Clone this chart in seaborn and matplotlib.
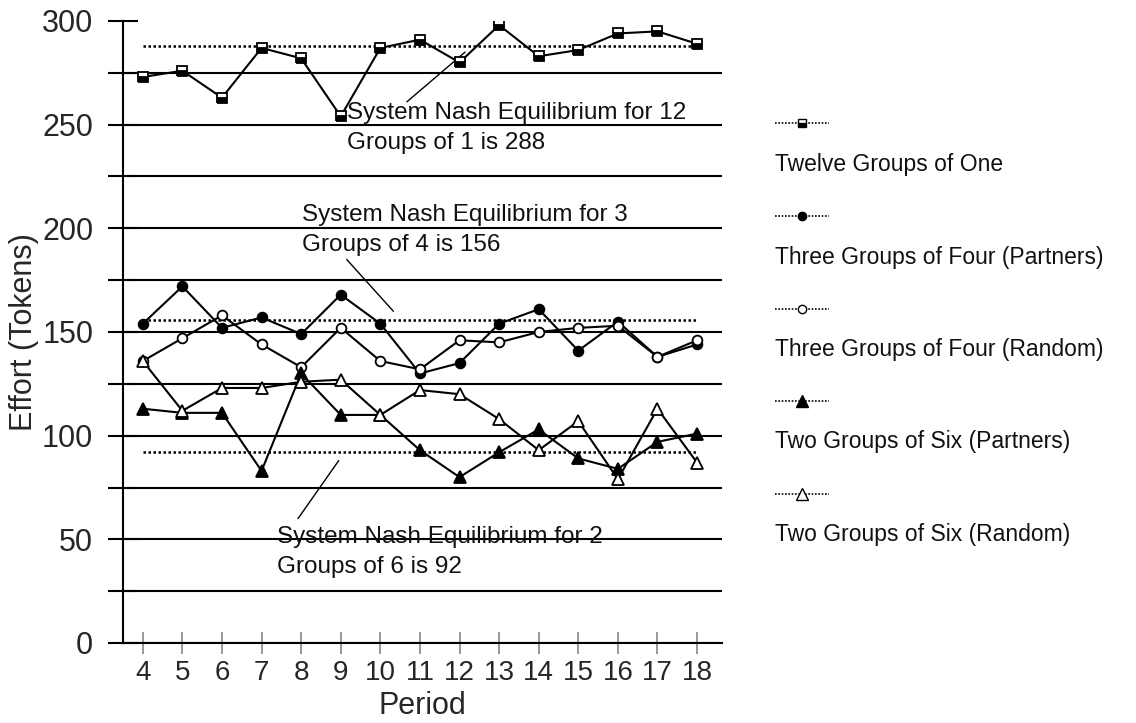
import numpy as np
import pandas as pd
import matplotlib
matplotlib.use("Agg")
import matplotlib.pyplot as plt
from matplotlib.lines import Line2D
import seaborn as sns

# --- data ---
periods = list(range(4, 19))
twelve_one = [273, 276, 263, 287, 282, 254, 287, 291, 280, 298, 283, 286, 294, 295, 289]
three_four_partners = [154, 172, 152, 157, 149, 168, 154, 130, 135, 154, 161, 141, 155, 138, 144]
three_four_random = [136, 147, 158, 144, 133, 152, 136, 132, 146, 145, 150, 152, 153, 138, 146]
two_six_partners = [113, 111, 111, 83, 130, 110, 110, 93, 80, 92, 103, 89, 84, 97, 101]
two_six_random = [136, 112, 123, 123, 126, 127, 110, 122, 120, 108, 93, 107, 79, 113, 87]
nash_values = [288, 156, 92]
nash_notes = [
    ("System Nash Equilibrium for 12", "Groups of 1 is 288"),
    ("System Nash Equilibrium for 3", "Groups of 4 is 156"),
    ("System Nash Equilibrium for 2", "Groups of 6 is 92"),
]
series_names = [
    "Twelve Groups of One",
    "Three Groups of Four (Partners)",
    "Three Groups of Four (Random)",
    "Two Groups of Six (Partners)",
    "Two Groups of Six (Random)",
]
series_values = [twelve_one, three_four_partners, three_four_random,
                 two_six_partners, two_six_random]

sns.set_style("white")
plt.rcParams["font.family"] = ["Liberation Sans", "DejaVu Sans"]

# marker styles per series
marker_styles = [
    dict(marker="s", markersize=7, markerfacecolor="black",
         markerfacecoloralt="white", fillstyle="bottom"),
    dict(marker="o", markersize=7, markerfacecolor="black"),
    dict(marker="o", markersize=7, markerfacecolor="white"),
    dict(marker="^", markersize=9, markerfacecolor="black"),
    dict(marker="^", markersize=9, markerfacecolor="white"),
]

fig = plt.figure(figsize=(11.36, 7.23), dpi=100)
ax = fig.add_axes([123 / 1136, 80 / 723, (722 - 123) / 1136, (643 - 21) / 723])

# Nash equilibrium reference lines
for v in nash_values:
    sns.lineplot(x=[periods[0], periods[-1]], y=[v, v], ax=ax, color="black",
                 linewidth=1.8, linestyle=(0, (1, 1)), legend=False)

for name, vals, st in zip(series_names, series_values, marker_styles):
    df = pd.DataFrame({"Period": periods, "Effort": vals})
    sns.lineplot(data=df, x="Period", y="Effort", ax=ax, color="black",
                 linewidth=1.5, markeredgecolor="black", markeredgewidth=1.3,
                 legend=False, zorder=3, **st)

# axes styling
ax.set_xlim(3.5, 18.63)
ax.set_ylim(0, 300)
ax.set_yticks(np.arange(0, 301, 25))
ax.set_yticklabels([str(t) if t % 50 == 0 else "" for t in range(0, 301, 25)])
ax.set_xticks(periods)
ax.set_xticklabels([str(p) for p in periods])
ax.yaxis.grid(True, color="black", linewidth=1.5)
ax.xaxis.grid(False)
for gl in ax.yaxis.get_gridlines()[-1:]:
    gl.set_visible(False)
ax.tick_params(axis="y", left=True, direction="inout", length=21, width=1.5,
               color="black", labelsize=22, pad=11)
ax.tick_params(axis="x", bottom=True, direction="inout", length=16, width=1.2,
               color="#888888", labelsize=20, pad=4)
sns.despine(ax=ax)
for side in ["left", "bottom"]:
    ax.spines[side].set_color("black")
    ax.spines[side].set_linewidth(1.5)
ax.set_xlabel("Period", fontsize=22, labelpad=4)
ax.set_ylabel("Effort (Tokens)", fontsize=22, labelpad=2)

# annotations for Nash lines
note_pos = [(9.17, 255.5, 241.0), (8.01, 206.5, 192.0), (7.39, 51.1, 36.6)]
leader_pos = [((10.67, 261), (12.14, 285)), ((9.15, 185), (10.33, 160)),
              ((7.92, 60), (8.95, 88))]
for (l1, l2), (tx, y1, y2), (p0, p1) in zip(nash_notes, note_pos, leader_pos):
    ax.text(tx, y1, l1, fontsize=17.5, va="center", ha="left", color="#111111")
    ax.text(tx, y2, l2, fontsize=17.5, va="center", ha="left", color="#111111")
    ax.plot([p0[0], p1[0]], [p0[1], p1[1]], color="black", linewidth=1)

# legend drawn by hand: marker line above each label
x0, x1 = 775 / 1136, 829 / 1136
for i, (name, st) in enumerate(zip(series_names, marker_styles)):
    ym = 1 - (123 + i * 92.8) / 723
    yt = 1 - (165 + i * 92.3) / 723
    fig.add_artist(Line2D([x0, x1], [ym, ym], transform=fig.transFigure,
                          color="black", linewidth=1.2, linestyle=(0, (1, 1))))
    st2 = dict(st)
    st2["markersize"] = st["markersize"] - 1
    fig.add_artist(Line2D([(x0 + x1) / 2], [ym], transform=fig.transFigure,
                          color="black", markeredgecolor="black",
                          markeredgewidth=1.0, linestyle="none", **st2))
    fig.text(x0, yt, name, fontsize=16.5, va="center", ha="left", color="#111111")

plt.savefig("out.png", dpi=100)
plt.close()
